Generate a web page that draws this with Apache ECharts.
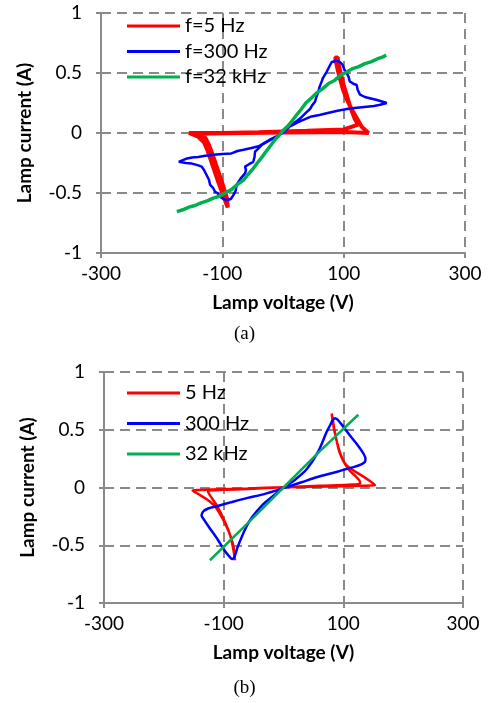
<!DOCTYPE html>
<html>
<head>
<meta charset="utf-8">
<script src="https://cdn.jsdelivr.net/npm/echarts@6/dist/echarts.min.js"></script>
<style>
html,body{margin:0;padding:0;background:#fff;}
#main{width:489px;height:703px;}
</style>
</head>
<body>
<div id="main"></div>
<script>
// axis ticks
var xTicks = [-300, -100, 100, 300];
var yTicks = [-1, -0.5, 0, 0.5, 1];

// (a) measured loops, [voltage V, current A]
var a5Hz = [
    [0,0.005],[60,0.006],[110,0.006],[141,0.0],
    [130,0.05],[122,0.12],[113,0.2],[105,0.28],[99,0.36],[94,0.45],[90,0.53],[87,0.6],[86,0.63],[90,0.63],
    [92,0.57],[95,0.5],[100,0.4],[106,0.3],[112,0.2],[118,0.12],[124,0.07],
    [100,0.03],[40,0.018],[-40,0.006],[-100,0.0],[-155,0.0],
    [-140,-0.03],[-130,-0.08],[-124,-0.15],[-118,-0.24],[-112,-0.33],[-106,-0.42],[-100,-0.5],[-95,-0.57],[-91,-0.62],[-88,-0.63],
    [-92,-0.55],[-98,-0.45],[-104,-0.36],[-110,-0.27],[-116,-0.18],[-122,-0.1],[-128,-0.04],[-140,-0.01],
    [-120,-0.004],[-60,0.0],[0,0.005]
];
var a300Hz = [
    [-172,-0.24],[-160,-0.215],[-150,-0.205],[-140,-0.2],[-128,-0.19],[-120,-0.185],[-110,-0.18],[-100,-0.175],[-85,-0.17],
    [-75,-0.15],[-65,-0.14],[-52,-0.125],[-40,-0.11],[-30,-0.08],[-20,-0.05],[-10,-0.025],[0,0.0],
    [10,0.05],[25,0.09],[45,0.135],[60,0.15],[72,0.165],[90,0.185],[110,0.205],[130,0.215],[150,0.225],[160,0.235],[171,0.25],
    [168,0.262],[155,0.275],[143,0.29],[135,0.3],[127,0.32],[123,0.36],[121.5,0.4],[116,0.41],[110,0.43],[108,0.47],
    [105,0.5],[101,0.53],[98,0.57],[94,0.59],[90,0.6],[85.7,0.6],[80,0.59],
    [76,0.55],[72,0.51],[66,0.46],[63.8,0.43],[60,0.38],[58,0.34],[55,0.3],[52.7,0.26],[48,0.23],[44.5,0.2],[38,0.17],
    [28,0.12],[20,0.09],[11.5,0.067],[3,0.03],[-5,-0.01],[-20,-0.055],[-35,-0.1],[-40.7,-0.13],
    [-46,-0.155],[-47,-0.2],[-49,-0.24],[-56,-0.26],[-62.6,-0.28],[-61,-0.31],[-62.6,-0.336],[-70,-0.38],[-76.3,-0.43],
    [-78,-0.48],[-82,-0.52],[-86,-0.55],[-93,-0.56],[-98,-0.55],
    [-104,-0.53],[-108,-0.5],[-112,-0.49],[-115,-0.46],[-120.3,-0.43],[-122,-0.39],[-126,-0.35],[-130,-0.31],[-134,-0.28],
    [-139.6,-0.27],[-150,-0.255],[-160,-0.25],[-172,-0.24]
];
var a32kHz = [
    [-175,-0.655],[-165,-0.64],[-155,-0.618],[-145,-0.604],[-135,-0.582],[-125,-0.566],[-115,-0.543],[-105,-0.527],
    [-95,-0.498],[-85,-0.472],[-75,-0.428],[-65,-0.392],[-58,-0.348],[-50,-0.302],[-42,-0.248],[-35,-0.203],
    [-27,-0.148],[-20,-0.102],[-12,-0.048],[-5,-0.012],[0,0.02],[8,0.058],[15,0.102],[22,0.148],[30,0.198],
    [38,0.252],[46,0.288],[55,0.332],[65,0.368],[75,0.412],[85,0.438],[95,0.482],[105,0.508],[115,0.537],
    [125,0.553],[135,0.578],[145,0.593],[155,0.617],[165,0.634],[170,0.65]
];

// (b) simulated loops, [voltage V, current A]
var b5Hz = [
    [0,0.003],[50,0.006],[100,0.01],[130,0.015],[153,0.02],
    [135,0.09],[117,0.147],[104,0.2],[96,0.28],[90,0.38],[86,0.47],[83,0.55],[80.5,0.64],
    [82,0.6],[85,0.5],[89,0.4],[94,0.3],[101,0.22],[110,0.15],[120,0.1],[127,0.06],[128,0.035],[115,0.025],
    [60,0.015],[0,0.003],[-60,-0.008],[-120,-0.018],[-152,-0.026],
    [-138,-0.07],[-126,-0.11],[-115,-0.16],[-105,-0.24],[-95,-0.34],[-88,-0.43],[-84,-0.5],[-82,-0.57],[-81,-0.63],
    [-83,-0.56],[-86,-0.48],[-90,-0.4],[-96,-0.32],[-104,-0.23],[-112,-0.15],[-120,-0.09],[-125,-0.05],[-126,-0.03],
    [-100,-0.02],[-50,-0.01],[0,0.003]
];
var b300Hz = [
    [-134,-0.205],[-125,-0.18],[-110,-0.16],[-87,-0.127],[-60,-0.09],[-31,-0.055],[0,-0.005],
    [30,0.045],[55,0.089],[85,0.13],[117,0.176],[130,0.2],[136,0.22],
    [137,0.25],[134,0.29],[125,0.36],[111,0.45],[98,0.54],[90,0.59],[86,0.6],[82,0.58],[77,0.53],[72,0.48],
    [58,0.31],[39,0.16],[20,0.07],[5,0.017],[-20,-0.084],[-35,-0.15],[-53,-0.26],[-62,-0.34],[-70,-0.43],
    [-77,-0.52],[-82,-0.6],[-86,-0.62],[-90,-0.6],[-98,-0.55],[-110,-0.45],[-125,-0.34],[-134,-0.27],[-137,-0.24],[-134,-0.205]
];
var b32kHz = [[-123,-0.63],[-60,-0.31],[0,0.0],[60,0.31],[125,0.63]];

var gray = '#8a8a8a';
var font = 'Lato';

function makeX(idx){
    return {
        type: 'value', gridIndex: idx, min: -300, max: 300, interval: 200,
        name: 'Lamp voltage (V)', nameLocation: 'middle', nameGap: 40,
        nameTextStyle: {fontFamily: font, fontWeight: 'bold', fontSize: 19, color: '#000'},
        axisLine: {show: true, onZero: false, lineStyle: {color: gray, width: 2}},
        axisTick: {show: true, length: 5, lineStyle: {color: gray, width: 2}, customValues: xTicks},
        axisLabel: {fontFamily: font, fontSize: 19, color: '#000', margin: 11, customValues: xTicks},
        splitLine: {show: true, lineStyle: {color: gray, width: 2, type: [10, 6]}}
    };
}
function makeY(idx){
    return {
        type: 'value', gridIndex: idx, min: -1, max: 1, interval: 0.5,
        name: 'Lamp current (A)', nameLocation: 'middle', nameGap: 67, nameRotate: 90,
        nameTextStyle: {fontFamily: font, fontWeight: 'bold', fontSize: 19, color: '#000'},
        axisLine: {show: true, onZero: false, lineStyle: {color: gray, width: 2}},
        axisTick: {show: true, length: 5, lineStyle: {color: gray, width: 2}},
        axisLabel: {fontFamily: font, fontSize: 19, color: '#000', margin: 19},
        splitLine: {show: true, lineStyle: {color: gray, width: 2, type: [10, 6]}}
    };
}
function makeSeries(name, data, color, width, idx, smooth){
    return {
        name: name, type: 'line', data: data, xAxisIndex: idx, yAxisIndex: idx,
        showSymbol: false, smooth: smooth, color: color,
        lineStyle: {color: color, width: width}
    };
}
function makeLegend(names, top, gap){
    return {
        data: names, orient: 'vertical', left: 122, top: top, itemGap: gap,
        itemWidth: 53, itemHeight: 3, icon: 'rect',
        textStyle: {fontFamily: font, fontSize: 20, color: '#000', lineHeight: 20}
    };
}

var myChart = echarts.init(document.getElementById('main'));
var option = {
    animation: false,
    backgroundColor: '#fff',
    grid: [
        {left: 101, top: 13, width: 364, height: 240},
        {left: 104, top: 372, width: 359, height: 231}
    ],
    xAxis: [makeX(0), makeX(1)],
    yAxis: [makeY(0), makeY(1)],
    legend: [
        makeLegend(['f=5 Hz', 'f=300 Hz', 'f=32 kHz'], 11, 5.5),
        makeLegend(['5 Hz', '300 Hz', '32 kHz'], 378, 10.5)
    ],
    graphic: [
        {type: 'text', left: 'center', top: 325, style: {text: '(a)', font: '19px "Liberation Serif"', fill: '#000'}},
        {type: 'text', left: 'center', top: 679, style: {text: '(b)', font: '19px "Liberation Serif"', fill: '#000'}}
    ],
    series: [
        makeSeries('f=5 Hz', a5Hz, '#ff0000', 4, 0, false),
        makeSeries('f=300 Hz', a300Hz, '#0000ff', 2.5, 0, false),
        makeSeries('f=32 kHz', a32kHz, '#00b050', 3.5, 0, false),
        makeSeries('5 Hz', b5Hz, '#ff0000', 2.5, 1, 0.3),
        makeSeries('300 Hz', b300Hz, '#0000ff', 2.5, 1, 0.3),
        makeSeries('32 kHz', b32kHz, '#00b050', 2.5, 1, false)
    ]
};
myChart.setOption(option);
</script>
</body>
</html>
